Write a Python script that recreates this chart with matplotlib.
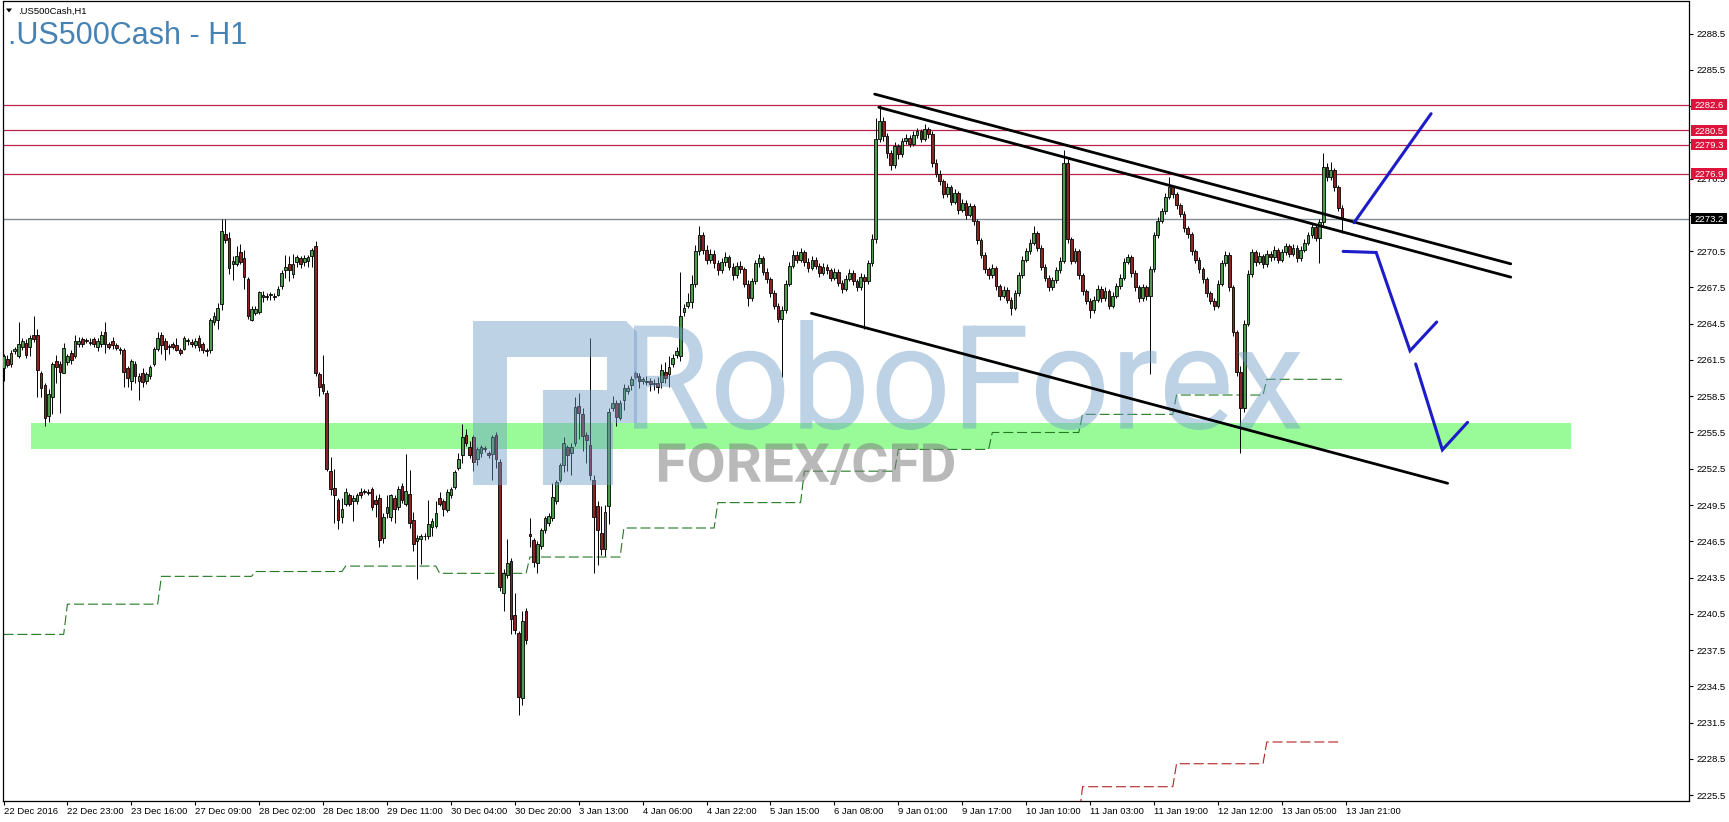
import numpy as np
import matplotlib
matplotlib.use("Agg")
import matplotlib.pyplot as plt
from matplotlib import transforms
from matplotlib.patches import Rectangle, PathPatch, Polygon
from matplotlib.textpath import TextPath
from matplotlib.font_manager import FontProperties

W, H = 1729, 822

# hourly candles (22 Dec 2016 .. 13 Jan 2017)
opens = [
    2260.8, 2261.6, 2261.2, 2262.2, 2261.8, 2262.6, 2262.9, 2262.6, 2263.6, 2263.6,
    2260.4, 2259.4, 2256.9, 2258.4, 2261.4, 2261.2, 2260.4, 2261.3, 2262.1, 2261.8,
    2262.8, 2263.2, 2263.1, 2263.0, 2263.2, 2262.6, 2262.8, 2263.8, 2262.8, 2263.1,
    2262.7, 2262.4, 2262.3, 2260.8, 2259.8, 2261.2, 2259.8, 2260.4, 2259.8, 2260.2,
    2261.2, 2262.4, 2263.6, 2263.1,
    2262.6, 2262.8, 2262.7, 2262.3, 2262.4, 2263.1, 2263.0, 2262.7, 2263.3, 2262.8,
    2262.3, 2262.3, 2264.6, 2264.8, 2266.1, 2271.9, 2271.6, 2269.4, 2269.4, 2270.4,
    2269.9, 2268.2, 2264.8, 2265.4, 2265.5, 2266.9, 2266.7, 2266.9, 2266.7, 2266.9,
    2267.6, 2268.9, 2269.4, 2268.6, 2269.6, 2269.9, 2269.6, 2269.7, 2270.1, 2270.9,
    2260.3, 2259.5, 2258.8, 2252.3, 2250.9, 2249.9, 2248.5,
    2249.6, 2250.3, 2249.8, 2249.8, 2250.6, 2250.6, 2250.6, 2250.8, 2249.9, 2250.1,
    2246.8, 2248.8, 2248.5, 2250.1, 2249.3, 2251.1, 2249.6, 2250.4, 2248.3, 2246.5,
    2246.7, 2246.9, 2246.9, 2247.7, 2247.8, 2250.1, 2249.8, 2249.1, 2250.3, 2251.0,
    2252.6, 2253.6, 2255.3, 2254.3, 2255.1, 2253.3, 2253.8, 2254.2, 2253.8, 2253.7,
    2255.3, 2253.1, 2242.2, 2243.7, 2244.9,
    2240.4, 2238.9, 2233.5, 2240.7, 2247.1, 2246.6, 2244.7, 2246.1, 2247.4, 2248.0,
    2248.4, 2249.8, 2251.6, 2252.8, 2254.3, 2253.8, 2254.6, 2257.7, 2257.0, 2255.3,
    2254.5, 2251.6, 2249.4, 2247.2, 2245.9, 2249.4, 2257.5, 2257.9, 2256.7, 2258.2,
    2258.9, 2259.4, 2260.4, 2260.2, 2259.8, 2259.8, 2259.8, 2259.5, 2259.6, 2259.7,
    2260.5, 2260.3, 2261.2, 2261.9, 2261.8, 2265.5, 2266.0,
    2266.3, 2267.8, 2270.5, 2271.8, 2270.6, 2269.8, 2270.3, 2269.5, 2268.9, 2269.6,
    2270.0, 2269.2, 2268.5, 2269.3, 2269.0, 2267.8, 2266.6, 2268.0, 2269.5, 2269.9,
    2268.8, 2268.2, 2267.0, 2266.0, 2264.9, 2265.6, 2267.8, 2269.3, 2270.2, 2269.8,
    2270.4, 2269.6, 2269.1, 2269.8, 2269.3, 2268.7, 2269.2, 2268.9, 2268.3, 2268.8,
    2267.9, 2267.4, 2268.2, 2268.7, 2268.0, 2267.5, 2268.4, 2268.0, 2269.5, 2271.5,
    2279.8, 2281.3, 2280.0, 2278.6, 2277.6, 2279.2, 2278.5, 2279.6, 2279.9, 2279.4,
    2280.1, 2280.4, 2279.8, 2280.6, 2280.2, 2277.8, 2276.9, 2276.3, 2275.2, 2275.8,
    2274.6, 2275.3, 2273.9, 2274.5, 2273.5, 2274.2, 2273.0, 2271.4, 2270.2, 2269.0,
    2268.5, 2269.1, 2267.6, 2266.8, 2267.3, 2266.5, 2265.8, 2267.0, 2268.5, 2269.8,
    2270.5, 2271.2, 2272.0, 2270.8, 2269.2, 2268.3, 2267.5, 2268.1, 2268.9, 2269.7,
    2277.8, 2271.5, 2269.7, 2270.5, 2268.5, 2267.2, 2266.4, 2265.6, 2266.5, 2267.4,
    2266.6, 2267.2, 2266.0, 2266.8, 2267.6, 2268.3, 2269.6, 2270.0, 2268.7, 2267.5,
    2266.6, 2267.5, 2266.8, 2269.0, 2271.8, 2273.0, 2273.8, 2275.0, 2275.8, 2275.2,
    2274.3, 2273.6, 2272.4, 2271.9, 2270.5, 2269.8, 2269.0, 2268.2, 2267.0, 2266.4,
    2266.0, 2267.8, 2269.5, 2270.2, 2267.5, 2263.8, 2260.5, 2257.5, 2264.5, 2268.6,
    2270.4, 2269.6, 2270.1, 2269.4, 2270.3, 2270.0, 2270.6, 2269.8, 2270.4, 2270.9,
    2270.3, 2270.8, 2269.9, 2270.6, 2271.2, 2271.8, 2272.5, 2271.6, 2272.9, 2277.5,
    2276.6, 2277.2, 2275.8, 2274.1,
]
highs = [
    2262.0, 2261.9, 2262.3, 2262.6, 2264.6, 2263.3, 2263.2, 2263.6, 2265.1, 2264.1,
    2260.6, 2259.6, 2259.1, 2261.3, 2261.9, 2261.4, 2262.9, 2262.0, 2262.3, 2263.6,
    2263.4, 2263.4, 2263.3, 2263.3, 2263.4, 2263.3, 2263.9, 2264.6, 2263.0, 2263.4,
    2262.9, 2262.6, 2262.5, 2261.0, 2261.6, 2261.4, 2260.4, 2260.8, 2260.5, 2261.1,
    2262.6, 2263.8, 2263.8, 2263.3,
    2262.8, 2263.0, 2263.3, 2262.5, 2263.5, 2263.3, 2263.2, 2263.3, 2263.6, 2263.0,
    2262.5, 2265.0, 2265.5, 2266.2, 2273.2, 2273.2, 2272.1, 2270.1, 2270.9, 2271.1,
    2270.6, 2268.4, 2266.0, 2266.0, 2267.2, 2267.2, 2267.0, 2267.1, 2267.0, 2267.6,
    2268.9, 2270.2, 2270.1, 2270.3, 2270.2, 2270.1, 2270.2, 2270.2, 2270.8, 2271.3,
    2260.5, 2261.9, 2259.0, 2253.5, 2252.5, 2250.1, 2250.1,
    2250.9, 2250.5, 2250.3, 2250.5, 2250.9, 2250.8, 2250.8, 2251.0, 2250.3, 2250.4,
    2248.8, 2250.3, 2250.4, 2250.3, 2251.1, 2251.3, 2253.7, 2252.4, 2248.9, 2247.0,
    2247.1, 2247.2, 2249.9, 2248.4, 2249.8, 2250.6, 2250.0, 2250.8, 2251.0, 2252.4,
    2253.8, 2256.2, 2255.8, 2254.8, 2255.3, 2254.3, 2254.5, 2254.4, 2254.0, 2255.3,
    2255.5, 2253.3, 2244.2, 2246.7, 2245.1,
    2242.2, 2239.1, 2240.7, 2241.0, 2248.4, 2246.8, 2246.5, 2247.6, 2248.6, 2248.8,
    2251.3, 2251.6, 2253.0, 2255.1, 2254.5, 2254.6, 2258.4, 2258.8, 2257.5, 2255.5,
    2263.3, 2252.0, 2249.8, 2249.4, 2249.5, 2257.5, 2258.5, 2258.2, 2258.2, 2259.5,
    2259.4, 2260.2, 2260.6, 2260.4, 2260.1, 2260.2, 2260.0, 2259.9, 2260.1, 2261.2,
    2261.3, 2261.8, 2262.0, 2262.6, 2268.8, 2266.1, 2267.0,
    2268.5, 2271.0, 2272.6, 2272.1, 2271.0, 2270.7, 2270.6, 2269.8, 2269.9, 2270.4,
    2270.2, 2269.5, 2269.6, 2269.7, 2269.2, 2268.1, 2268.3, 2269.8, 2270.3, 2270.1,
    2269.1, 2268.4, 2267.3, 2266.2, 2266.0, 2268.1, 2269.6, 2270.6, 2270.5, 2270.8,
    2270.6, 2269.9, 2270.1, 2270.0, 2269.5, 2269.5, 2269.4, 2269.1, 2269.1, 2269.0,
    2268.1, 2268.5, 2269.0, 2268.9, 2268.2, 2268.7, 2268.6, 2269.8, 2271.9, 2281.5,
    2282.6, 2281.6, 2280.3, 2278.9, 2279.5, 2279.4, 2279.9, 2280.2, 2280.1, 2280.4,
    2280.7, 2280.6, 2281.0, 2280.8, 2280.4, 2278.1, 2277.2, 2276.5, 2276.1, 2276.0,
    2275.6, 2275.5, 2274.8, 2274.7, 2274.5, 2274.4, 2273.2, 2271.6, 2270.4, 2269.2,
    2269.4, 2269.3, 2267.8, 2267.6, 2267.5, 2266.7, 2267.3, 2268.8, 2270.1, 2270.8,
    2271.5, 2272.6, 2272.2, 2271.0, 2269.4, 2268.5, 2268.4, 2269.2, 2270.0, 2278.9,
    2278.1, 2271.7, 2270.8, 2270.7, 2268.7, 2267.4, 2266.6, 2266.8, 2267.7, 2267.6,
    2267.5, 2267.4, 2267.1, 2267.9, 2268.6, 2269.9, 2270.3, 2270.2, 2268.9, 2267.7,
    2267.8, 2267.7, 2269.3, 2272.1, 2273.3, 2274.1, 2275.3, 2276.6, 2276.0, 2275.4,
    2274.5, 2273.8, 2272.6, 2272.1, 2270.7, 2270.0, 2269.2, 2268.4, 2267.2, 2266.6,
    2268.1, 2269.8, 2270.5, 2270.4, 2267.7, 2264.0, 2261.0, 2264.8, 2268.9, 2270.7,
    2270.6, 2270.4, 2270.3, 2270.6, 2270.5, 2270.9, 2270.8, 2270.7, 2271.2, 2271.1,
    2271.1, 2271.0, 2270.9, 2271.5, 2272.1, 2272.8, 2272.7, 2273.2, 2278.6, 2277.8,
    2277.9, 2277.4, 2276.0, 2274.3,
]
lows = [
    2259.8, 2260.9, 2260.9, 2262.0, 2261.7, 2262.3, 2261.7, 2261.8, 2263.0, 2258.4,
    2258.4, 2256.0, 2256.4, 2257.0, 2259.6, 2257.1, 2260.4, 2261.1, 2261.2, 2261.7,
    2262.6, 2262.6, 2262.9, 2262.7, 2262.6, 2262.2, 2262.6, 2262.1, 2262.4, 2262.4,
    2262.3, 2262.0, 2259.3, 2259.3, 2259.0, 2259.6, 2258.2, 2259.3, 2259.5, 2259.9,
    2261.0, 2262.2, 2262.0, 2261.5,
    2262.0, 2262.4, 2262.2, 2261.9, 2262.3, 2262.7, 2262.6, 2262.5, 2262.2, 2262.1,
    2261.8, 2262.1, 2264.4, 2264.1, 2265.6, 2271.2, 2268.6, 2268.1, 2269.3, 2269.4,
    2267.4, 2264.9, 2264.7, 2265.2, 2265.3, 2266.3, 2266.5, 2266.5, 2266.5, 2266.8,
    2267.4, 2268.3, 2268.0, 2268.3, 2269.2, 2269.1, 2269.3, 2269.2, 2269.2, 2260.2,
    2258.5, 2258.7, 2252.3, 2250.3, 2248.0, 2247.5, 2248.0,
    2249.4, 2249.4, 2248.2, 2249.6, 2250.1, 2250.4, 2250.3, 2249.1, 2248.5, 2246.0,
    2246.4, 2248.4, 2248.2, 2248.0, 2249.1, 2249.7, 2249.4, 2247.6, 2245.7, 2243.4,
    2244.6, 2246.6, 2246.7, 2246.9, 2247.6, 2249.4, 2248.6, 2248.9, 2250.1, 2250.8,
    2252.4, 2253.0, 2254.4, 2253.4, 2252.3, 2252.8, 2253.5, 2253.9, 2253.4, 2251.6,
    2252.6, 2242.4, 2240.7, 2243.5, 2238.8,
    2238.8, 2232.1, 2233.0, 2238.0, 2246.0, 2244.4, 2243.9, 2245.9, 2247.2, 2247.8,
    2248.2, 2249.6, 2251.4, 2252.2, 2252.3, 2252.0, 2254.4, 2255.0, 2254.0, 2253.0,
    2251.6, 2243.9, 2244.5, 2245.4, 2245.3, 2247.9, 2257.3, 2256.0, 2256.5, 2257.4,
    2258.7, 2259.0, 2259.9, 2259.2, 2259.5, 2259.4, 2258.9, 2259.0, 2258.8, 2259.2,
    2259.6, 2259.3, 2260.9, 2261.7, 2261.4, 2265.1, 2265.8,
    2265.8, 2267.5, 2270.2, 2270.3, 2269.4, 2269.5, 2269.1, 2268.5, 2268.7, 2269.3,
    2268.9, 2268.1, 2268.3, 2268.7, 2267.5, 2266.0, 2266.4, 2267.8, 2269.2, 2268.5,
    2267.9, 2266.7, 2265.7, 2264.6, 2260.1, 2265.4, 2267.6, 2269.1, 2269.5, 2269.6,
    2269.3, 2268.8, 2268.9, 2269.0, 2268.4, 2268.5, 2268.6, 2268.0, 2268.1, 2267.6,
    2267.0, 2267.2, 2268.0, 2267.7, 2267.2, 2267.3, 2264.1, 2267.8, 2269.3, 2271.2,
    2279.5, 2279.6, 2278.2, 2277.2, 2277.4, 2278.1, 2278.3, 2279.4, 2279.1, 2279.2,
    2279.9, 2279.5, 2279.6, 2279.9, 2277.5, 2276.6, 2276.0, 2274.9, 2275.0, 2274.3,
    2274.4, 2273.6, 2273.7, 2273.2, 2273.3, 2272.7, 2271.1, 2269.9, 2268.7, 2268.2,
    2268.3, 2267.3, 2266.5, 2266.6, 2266.2, 2265.2, 2265.6, 2266.8, 2268.3, 2269.6,
    2270.3, 2271.0, 2270.5, 2268.9, 2268.0, 2267.2, 2267.3, 2267.9, 2268.7, 2269.5,
    2271.2, 2269.4, 2269.5, 2268.2, 2266.9, 2266.1, 2265.0, 2265.4, 2266.3, 2266.3,
    2266.4, 2265.7, 2265.8, 2266.6, 2267.4, 2268.1, 2269.4, 2268.4, 2267.2, 2266.3,
    2266.4, 2266.5, 2260.3, 2268.8, 2271.6, 2272.8, 2273.6, 2274.8, 2274.9, 2274.0,
    2273.3, 2272.1, 2271.6, 2270.2, 2269.5, 2268.7, 2267.9, 2266.7, 2266.1, 2265.6,
    2265.8, 2267.6, 2269.3, 2267.2, 2263.5, 2260.2, 2253.8, 2257.2, 2264.3, 2268.4,
    2269.3, 2269.4, 2269.1, 2269.2, 2269.7, 2269.8, 2269.5, 2269.6, 2270.2, 2270.0,
    2270.1, 2269.6, 2269.7, 2270.4, 2271.0, 2271.6, 2271.3, 2269.5, 2272.7, 2276.3,
    2276.4, 2275.5, 2273.8, 2272.0,
]
closes = [
    2261.8, 2261.1, 2262.1, 2262.4, 2262.8, 2263.1, 2261.9, 2263.3, 2263.2, 2260.7,
    2259.2, 2256.7, 2258.7, 2261.2, 2260.9, 2260.5, 2262.5, 2261.8, 2261.5, 2263.1,
    2263.1, 2262.8, 2263.1, 2262.9, 2262.8, 2263.1, 2263.6, 2262.8, 2262.6, 2262.7,
    2262.5, 2262.3, 2260.5, 2260.0, 2261.4, 2260.2, 2260.2, 2259.7, 2260.3, 2260.9,
    2262.4, 2263.3, 2262.7, 2262.4,
    2262.6, 2262.6, 2262.3, 2262.1, 2263.3, 2263.1, 2262.8, 2263.1, 2262.6, 2262.3,
    2262.2, 2264.8, 2265.1, 2265.8, 2272.2, 2271.4, 2269.1, 2269.7, 2270.1, 2269.6,
    2268.4, 2265.1, 2265.7, 2265.7, 2267.1, 2266.7, 2266.8, 2266.9, 2266.7, 2267.4,
    2268.7, 2269.2, 2268.9, 2269.4, 2270.0, 2269.4, 2269.9, 2270.0, 2270.6, 2260.4,
    2259.3, 2258.9, 2252.5, 2250.8, 2250.3, 2248.3, 2249.2,
    2250.6, 2249.6, 2250.1, 2250.3, 2250.3, 2250.6, 2250.5, 2249.3, 2249.6, 2246.6,
    2248.5, 2249.3, 2250.3, 2249.2, 2250.8, 2249.9, 2250.7, 2248.0, 2246.3, 2246.8,
    2246.9, 2246.9, 2247.9, 2248.2, 2248.8, 2249.6, 2249.2, 2250.6, 2250.8, 2252.2,
    2253.3, 2255.1, 2254.6, 2253.6, 2253.1, 2254.1, 2254.3, 2254.1, 2253.6, 2255.1,
    2253.3, 2242.7, 2243.9, 2244.7, 2240.1,
    2239.2, 2233.6, 2239.9, 2238.3, 2246.9, 2244.8, 2246.3, 2247.4, 2248.4, 2248.6,
    2250.2, 2251.4, 2252.8, 2254.6, 2253.6, 2254.3, 2257.6, 2257.1, 2255.2, 2254.9,
    2252.0, 2248.5, 2247.4, 2245.9, 2248.9, 2257.2, 2257.9, 2256.8, 2257.9, 2259.2,
    2259.2, 2259.9, 2260.1, 2259.8, 2259.9, 2259.7, 2259.5, 2259.6, 2259.3, 2260.7,
    2260.0, 2260.9, 2261.7, 2262.2, 2265.1, 2265.8, 2266.3,
    2267.8, 2270.5, 2271.8, 2270.6, 2269.8, 2270.3, 2269.5, 2268.9, 2269.6, 2270.0,
    2269.2, 2268.5, 2269.3, 2269.0, 2267.8, 2266.6, 2268.0, 2269.5, 2269.9, 2268.8,
    2268.2, 2267.0, 2266.0, 2264.9, 2265.6, 2267.8, 2269.3, 2270.2, 2269.8, 2270.4,
    2269.6, 2269.1, 2269.8, 2269.3, 2268.7, 2269.2, 2268.9, 2268.3, 2268.8, 2267.9,
    2267.4, 2268.2, 2268.7, 2268.0, 2267.5, 2268.4, 2268.0, 2269.5, 2271.5, 2279.8,
    2281.3, 2280.0, 2278.6, 2277.6, 2279.2, 2278.5, 2279.6, 2279.9, 2279.4, 2280.1,
    2280.4, 2279.8, 2280.6, 2280.2, 2277.8, 2276.9, 2276.3, 2275.2, 2275.8, 2274.6,
    2275.3, 2273.9, 2274.5, 2273.5, 2274.2, 2273.0, 2271.4, 2270.2, 2269.0, 2268.5,
    2269.1, 2267.6, 2266.8, 2267.3, 2266.5, 2265.8, 2267.0, 2268.5, 2269.8, 2270.5,
    2271.2, 2272.0, 2270.8, 2269.2, 2268.3, 2267.5, 2268.1, 2268.9, 2269.7, 2277.8,
    2271.5, 2269.7, 2270.5, 2268.5, 2267.2, 2266.4, 2265.6, 2266.5, 2267.4, 2266.6,
    2267.2, 2266.0, 2266.8, 2267.6, 2268.3, 2269.6, 2270.0, 2268.7, 2267.5, 2266.6,
    2267.5, 2266.8, 2269.0, 2271.8, 2273.0, 2273.8, 2275.0, 2275.8, 2275.2, 2274.3,
    2273.6, 2272.4, 2271.9, 2270.5, 2269.8, 2269.0, 2268.2, 2267.0, 2266.4, 2266.0,
    2267.8, 2269.5, 2270.2, 2267.5, 2263.8, 2260.5, 2257.5, 2264.5, 2268.6, 2270.4,
    2269.6, 2270.1, 2269.4, 2270.3, 2270.0, 2270.6, 2269.8, 2270.4, 2270.9, 2270.3,
    2270.8, 2269.9, 2270.6, 2271.2, 2271.8, 2272.5, 2271.6, 2272.9, 2277.5, 2276.6,
    2277.2, 2275.8, 2274.1, 2273.2,
]

time_labels = [
    "22 Dec 2016", "22 Dec 23:00", "23 Dec 16:00", "27 Dec 09:00", "28 Dec 02:00",
    "28 Dec 18:00", "29 Dec 11:00", "30 Dec 04:00", "30 Dec 20:00", "3 Jan 13:00",
    "4 Jan 06:00", "4 Jan 22:00", "5 Jan 15:00", "6 Jan 08:00", "9 Jan 01:00",
    "9 Jan 17:00", "10 Jan 10:00", "11 Jan 03:00", "11 Jan 19:00", "12 Jan 12:00",
    "13 Jan 05:00", "13 Jan 21:00",
]
bars_per_label = 17

# stepped indicator lines (bar index where each level starts, level)
green_steps = [0, 17, 42, 67, 91, 116, 140, 165, 190, 213, 238, 263, 287, 312, 336, 357]
green_levels = [2238.8, 2241.3, 2243.6, 2244.0, 2244.45, 2243.85, 2245.2, 2247.6,
                2249.7, 2252.3, 2254.1, 2255.5, 2257.0, 2258.6, 2259.9]
red_steps = [263, 287, 312, 336, 357]
red_levels = [2223.5, 2226.2, 2228.1, 2229.9]

resistance_levels = [2282.6, 2280.5, 2279.3, 2276.9]
last_price = 2273.2
yticks = np.arange(2225.5, 2289.0, 3.0)
# scale labels that sit fully under a price tag on the original
hidden_ticks = [2282.5, 2279.5, 2273.5]

support_zone = (7.3, 416.9, 2254.16, 2256.3)   # bar from, bar to, low, high

channel = [
    [(231.7, 2283.49), (400.9, 2269.45)],
    [(232.8, 2282.40), (400.9, 2268.35)],
    [(214.9, 2265.36), (384.1, 2251.30)],
]
forecast = [
    [(359.2, 2272.85), (379.7, 2281.87)],
    [(356.3, 2270.48), (365.1, 2270.39), (374.1, 2262.26), (381.2, 2264.64)],
    [(375.6, 2261.17), (382.7, 2254.06), (389.4, 2256.34)],
]

plt.rcParams["font.family"] = ["Liberation Sans", "DejaVu Sans"]

fig = plt.figure(figsize=(W / 100, H / 100), dpi=100)
ax = fig.add_axes([2.5 / W, (H - 800.5) / H, (1689 - 2.5) / W, (800.5 - 1.5) / H])
ax.set_xlim(-0.27, 448.3)
ax.set_ylim(2225.06, 2291.15)

# pixel coordinates (y down) for the watermark / header
px = transforms.Affine2D().scale(1 / W, -1 / H).translate(0, 1) + fig.transFigure
tag = transforms.blended_transform_factory(ax.transAxes, ax.transData)

n = min(len(opens), len(highs), len(lows), len(closes))
o = np.array(opens[:n]); h = np.array(highs[:n])
l = np.array(lows[:n]); c = np.array(closes[:n])
x = np.arange(n)

# support zone
z0, z1, zlo, zhi = support_zone
ax.add_patch(Rectangle((z0, zlo), z1 - z0, zhi - zlo, fc="#98fb98", ec="none", zorder=1))

for lvl in resistance_levels:
    ax.axhline(lvl, color="#b8264e", lw=0.9, zorder=2)
ax.axhline(last_price, color="#7f8c96", lw=1.0, zorder=2)

g_series = np.repeat(green_levels, np.diff(green_steps))
ax.plot(np.arange(len(g_series)), g_series, color="#237a23", lw=0.8,
        dashes=(9, 3.5), zorder=2.5)
r_series = np.repeat(red_levels, np.diff(red_steps))
ax.plot(np.arange(red_steps[0], red_steps[-1]), r_series, color="#b22222", lw=0.8,
        dashes=(9, 3.5), zorder=2.5)

# candles
up = c >= o
ax.vlines(x, l, h, color="black", lw=0.7, zorder=3)
body_lo = np.minimum(o, c)
body_h = np.maximum(np.abs(c - o), 0.05)
ax.bar(x[up], body_h[up], 0.72, bottom=body_lo[up], color="#4e9a4e",
       edgecolor="black", lw=0.6, zorder=4)
ax.bar(x[~up], body_h[~up], 0.72, bottom=body_lo[~up], color="#8b2525",
       edgecolor="black", lw=0.6, zorder=4)

# RoboForex watermark
wm = "#6f9cc8"
logo = [(473, 321), (626, 321), (637, 332), (637, 423), (613, 423), (613, 485),
        (543, 485), (543, 390), (607, 390), (607, 357), (507, 357), (507, 485),
        (473, 485)]
ax.add_patch(Polygon(logo, closed=True, transform=px, fc=wm, ec="none",
                     alpha=0.45, zorder=5))


def fit_text(text, box, weight, color, alpha):
    tp = TextPath((0, 0), text, size=100,
                  prop=FontProperties(family="Roboto", weight=weight))
    bb = tp.get_extents()
    x0, x1, y0, y1 = box
    t = (transforms.Affine2D().translate(-bb.x0, -bb.y0)
         .scale((x1 - x0) / bb.width, -(y1 - y0) / bb.height).translate(x0, y1))
    ax.add_patch(PathPatch(t.transform_path(tp), transform=px, fc=color,
                           ec="none", alpha=alpha, zorder=5))


fit_text("RoboForex", (634, 1301, 320, 430), "normal", wm, 0.45)
fit_text("FOREX/CFD", (659, 954, 443, 485), "bold", "#808080", 0.55)

# drawn trend channel and forecast
for seg in channel:
    xs, ys = zip(*seg)
    ax.plot(xs, ys, color="black", lw=2.0, zorder=6, solid_capstyle="round")
for seg in forecast:
    xs, ys = zip(*seg)
    ax.plot(xs, ys, color="#1c1cc8", lw=2.2, zorder=6,
            solid_capstyle="round", solid_joinstyle="miter")

# axes
for sp in ax.spines.values():
    sp.set_color("black")
    sp.set_linewidth(0.9)
ax.yaxis.tick_right()
ax.set_yticks(yticks)
ax.set_yticklabels(["" if any(abs(v - t) < 0.01 for t in hidden_ticks) else f"{v:.1f}"
                    for v in yticks])
ax.tick_params(axis="y", length=3, width=0.8, pad=2.5, labelsize=6.8, colors="black")
ax.set_xticks(np.arange(len(time_labels)) * bars_per_label)
ax.set_xticklabels(time_labels, ha="left")
ax.tick_params(axis="x", length=3, width=0.8, pad=1.5, labelsize=6.8, colors="black")

# price tags on the scale
box_w = 36 / (1689 - 2.5)
box_h = 11 / 12.09
for lvl, fc in [(v, "#dc143c") for v in resistance_levels] + [(last_price, "black")]:
    ax.add_patch(Rectangle((1.0012, lvl - box_h / 2), box_w, box_h, transform=tag,
                           fc=fc, ec="none", clip_on=False, zorder=10))
    ax.text(1.0012 + box_w / 2, lvl, f"{lvl:.1f}", transform=tag, ha="center",
            va="center_baseline", color="white", fontsize=6.8, zorder=11, clip_on=False)

# header
fig.add_artist(Polygon([(6, 8.5), (12, 8.5), (9, 12.5)], closed=True,
                       transform=px, fc="black", ec="none"))
fig.text(18, 14, ".US500Cash,H1", transform=px, fontsize=6.8, va="baseline",
         ha="left", color="black")
fig.text(8, 44.5, ".US500Cash - H1", transform=px, fontsize=22, va="baseline",
         ha="left", color="#4682b4")

fig.savefig("out.png", dpi=100)
